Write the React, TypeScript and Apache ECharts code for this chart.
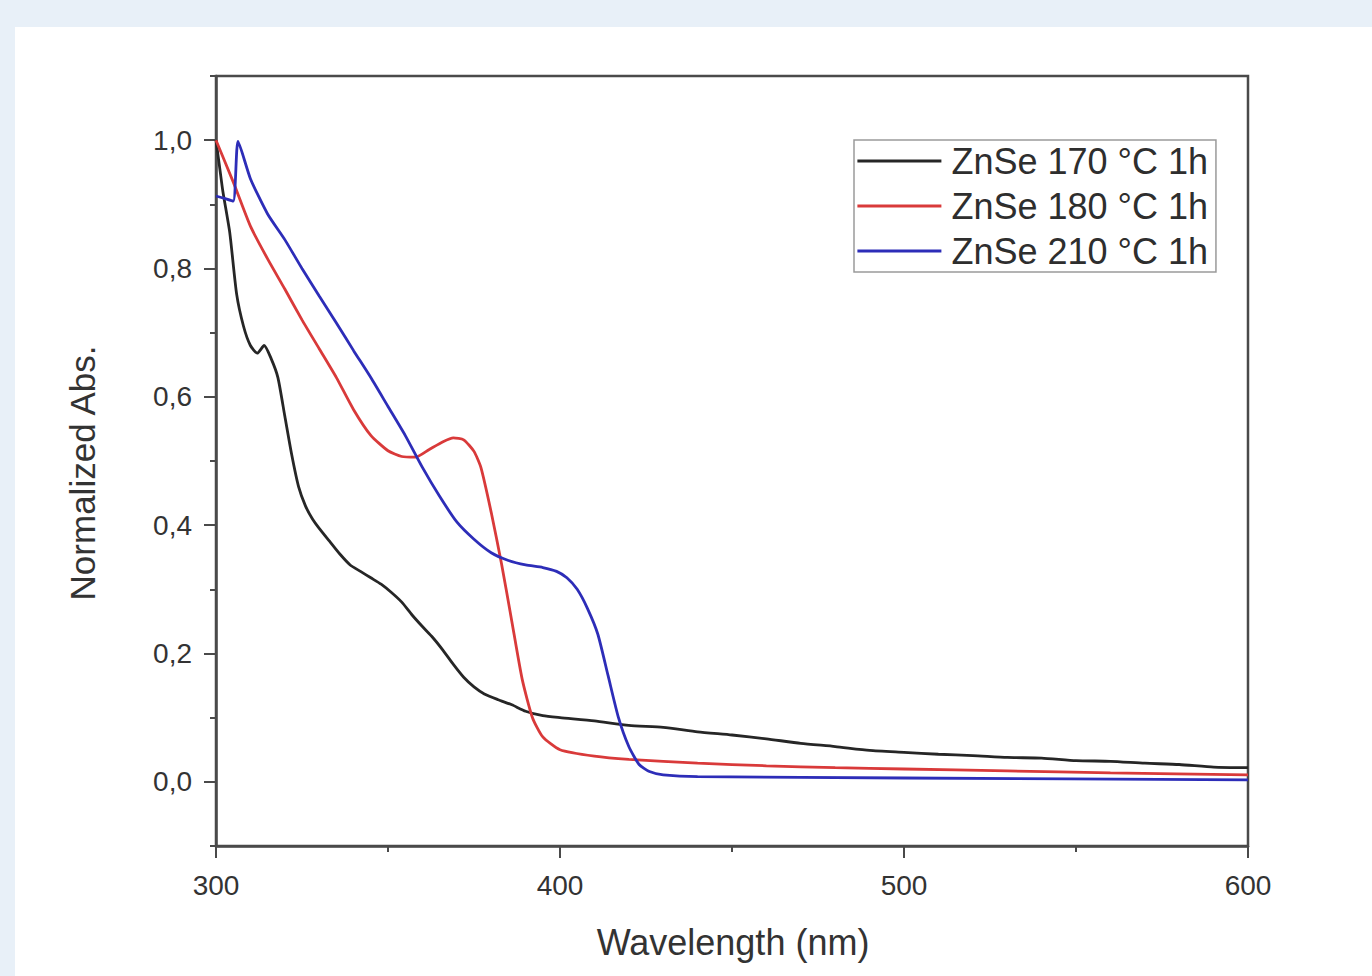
import React, { useEffect, useRef } from "react";
import * as echarts from "echarts";

// ZnSe 170 °C 1h
const x170 = [300, 301, 302, 304, 306, 308, 310, 312, 314, 316, 318, 320, 322, 324, 326, 328, 330, 333, 336, 339, 342, 345, 348, 351, 354, 357, 360, 363, 366, 369, 372, 375, 378, 382, 386, 390, 395, 400, 410, 420, 430, 440, 450, 460, 470, 480, 490, 500, 510, 520, 530, 540, 550, 560, 570, 580, 590, 600];
const y170 = [1.0, 0.96, 0.92, 0.856, 0.76, 0.71, 0.68, 0.668, 0.68, 0.66, 0.63, 0.57, 0.51, 0.46, 0.43, 0.41, 0.395, 0.375, 0.355, 0.338, 0.328, 0.318, 0.308, 0.295, 0.28, 0.26, 0.242, 0.225, 0.205, 0.183, 0.163, 0.148, 0.137, 0.128, 0.12, 0.11, 0.103, 0.1, 0.095, 0.088, 0.085, 0.078, 0.073, 0.067, 0.06, 0.055, 0.049, 0.046, 0.043, 0.041, 0.038, 0.037, 0.033, 0.032, 0.029, 0.027, 0.023, 0.022];

// ZnSe 180 °C 1h
const x180 = [300, 305, 310, 315, 320, 325, 330, 335, 340, 345, 350, 354, 358, 362, 366, 369, 372, 375, 377, 380, 383, 386, 389, 392, 395, 400, 410, 420, 440, 460, 480, 500, 530, 560, 600];
const y180 = [1.0, 0.935, 0.866, 0.815, 0.768, 0.72, 0.675, 0.63, 0.58, 0.54, 0.516, 0.507, 0.506, 0.518, 0.53, 0.536, 0.533, 0.515, 0.49, 0.42, 0.34, 0.25, 0.16, 0.1, 0.07, 0.05, 0.04, 0.035, 0.029, 0.025, 0.022, 0.02, 0.017, 0.014, 0.011];

// ZnSe 210 °C 1h
const x210 = [300, 302, 305, 306.4, 310, 315, 320, 325, 330, 335, 340, 345, 350, 355, 360, 365, 370, 375, 380, 385, 390, 395, 399, 402, 405, 408, 411, 414, 417, 420, 423, 426, 430, 440, 500, 600];
const y210 = [0.913, 0.91, 0.905, 0.998, 0.94, 0.885, 0.845, 0.8, 0.757, 0.715, 0.672, 0.63, 0.585, 0.54, 0.49, 0.445, 0.405, 0.378, 0.357, 0.345, 0.338, 0.334, 0.328, 0.318, 0.3, 0.27, 0.23, 0.165, 0.1, 0.055, 0.027, 0.016, 0.011, 0.008, 0.006, 0.003];

const seriesNames = ["ZnSe 170 °C 1h", "ZnSe 180 °C 1h", "ZnSe 210 °C 1h"];
const seriesColors = ["#262626", "#d93a3a", "#2d2db8"];
const yMajorTicks = [0, 0.2, 0.4, 0.6, 0.8, 1.0];
const yMinorTicks = [-0.1, 0.1, 0.3, 0.5, 0.7, 0.9, 1.1];

const pair = (xs: number[], ys: number[]) => xs.map((x, i) => [x, ys[i]]);

const FONT = "'Liberation Sans', Arial, sans-serif";
const AXIS = "#4a4a4a";
const TEXT = "#333333";

export default function App() {
  const ref = useRef<HTMLDivElement>(null);
  useEffect(() => {
    if (!ref.current) return;
    const chart = echarts.init(ref.current, null, { renderer: "svg" });
    const datasets = [pair(x170, y170), pair(x180, y180), pair(x210, y210)];
    chart.setOption({
      animation: false,
      textStyle: { fontFamily: FONT },
      grid: {
        left: 216,
        top: 76,
        right: 124,
        bottom: 130,
        show: true,
        borderColor: AXIS,
        borderWidth: 2.5,
        backgroundColor: "transparent",
      },
      legend: {
        left: 854,
        top: 140,
        orient: "vertical",
        data: seriesNames,
        itemWidth: 84,
        itemHeight: 14,
        itemGap: 9,
        padding: [3, 8, 3, 2],
        borderColor: "#9a9a9a",
        borderWidth: 1.5,
        backgroundColor: "#ffffff",
        itemStyle: { opacity: 0 },
        lineStyle: { width: 2.8 },
        textStyle: {
          fontSize: 36,
          color: "#2e2e2e",
          fontFamily: FONT,
          padding: [0, 0, 0, 5],
          lineHeight: 36,
        },
      },
      xAxis: {
        type: "value",
        min: 300,
        max: 600,
        interval: 100,
        axisLine: { show: true, onZero: false, lineStyle: { color: AXIS, width: 2.5 } },
        axisTick: { show: true, inside: false, length: 12, lineStyle: { color: AXIS, width: 2 } },
        minorTick: { show: true, splitNumber: 2, length: 6, lineStyle: { color: AXIS, width: 2 } },
        splitLine: { show: false },
        minorSplitLine: { show: false },
        axisLabel: { fontSize: 28, color: TEXT, margin: 25, fontFamily: FONT },
      },
      yAxis: [
        {
          type: "value",
          min: -0.1,
          max: 1.1,
          axisLine: { show: true, onZero: false, lineStyle: { color: AXIS, width: 2.5 } },
          axisTick: {
            show: true,
            inside: false,
            length: 12,
            customValues: yMajorTicks,
            lineStyle: { color: AXIS, width: 2 },
          },
          splitLine: { show: false },
          axisLabel: {
            fontSize: 28,
            color: TEXT,
            margin: 24,
            fontFamily: FONT,
            customValues: yMajorTicks,
            formatter: (v: number) => v.toFixed(1).replace(".", ","),
          },
        },
        {
          type: "value",
          min: -0.1,
          max: 1.1,
          position: "left",
          axisLine: { show: false, onZero: false },
          axisTick: {
            show: true,
            inside: false,
            length: 6,
            customValues: yMinorTicks,
            lineStyle: { color: AXIS, width: 2 },
          },
          splitLine: { show: false },
          axisLabel: { show: false },
        },
      ],
      graphic: [
        {
          type: "text",
          x: 82,
          y: 473,
          rotation: Math.PI / 2,
          style: {
            text: "Normalized Abs.",
            fontSize: 35,
            fill: TEXT,
            fontFamily: FONT,
            align: "center",
            verticalAlign: "middle",
          },
        },
        {
          type: "text",
          x: 733,
          y: 942,
          style: {
            text: "Wavelength (nm)",
            fontSize: 36,
            fill: TEXT,
            fontFamily: FONT,
            align: "center",
            verticalAlign: "middle",
          },
        },
      ],
      series: seriesNames.map((name, i) => ({
        name,
        type: "line",
        data: datasets[i],
        symbol: "none",
        smooth: 0.2,
        color: seriesColors[i],
        lineStyle: { color: seriesColors[i], width: 2.8 },
        yAxisIndex: 0,
        clip: true,
      })),
    });
    return () => chart.dispose();
  }, []);

  return (
    <div
      style={{
        position: "fixed",
        left: 0,
        top: 0,
        width: 1372,
        height: 976,
        background: "#e8f0f8",
        overflow: "hidden",
      }}
    >
      <div
        style={{
          position: "absolute",
          left: 15,
          top: 27,
          right: 0,
          bottom: 0,
          background: "#ffffff",
        }}
      />
      <div ref={ref} style={{ position: "absolute", left: 0, top: 0, width: 1372, height: 976 }} />
    </div>
  );
}
